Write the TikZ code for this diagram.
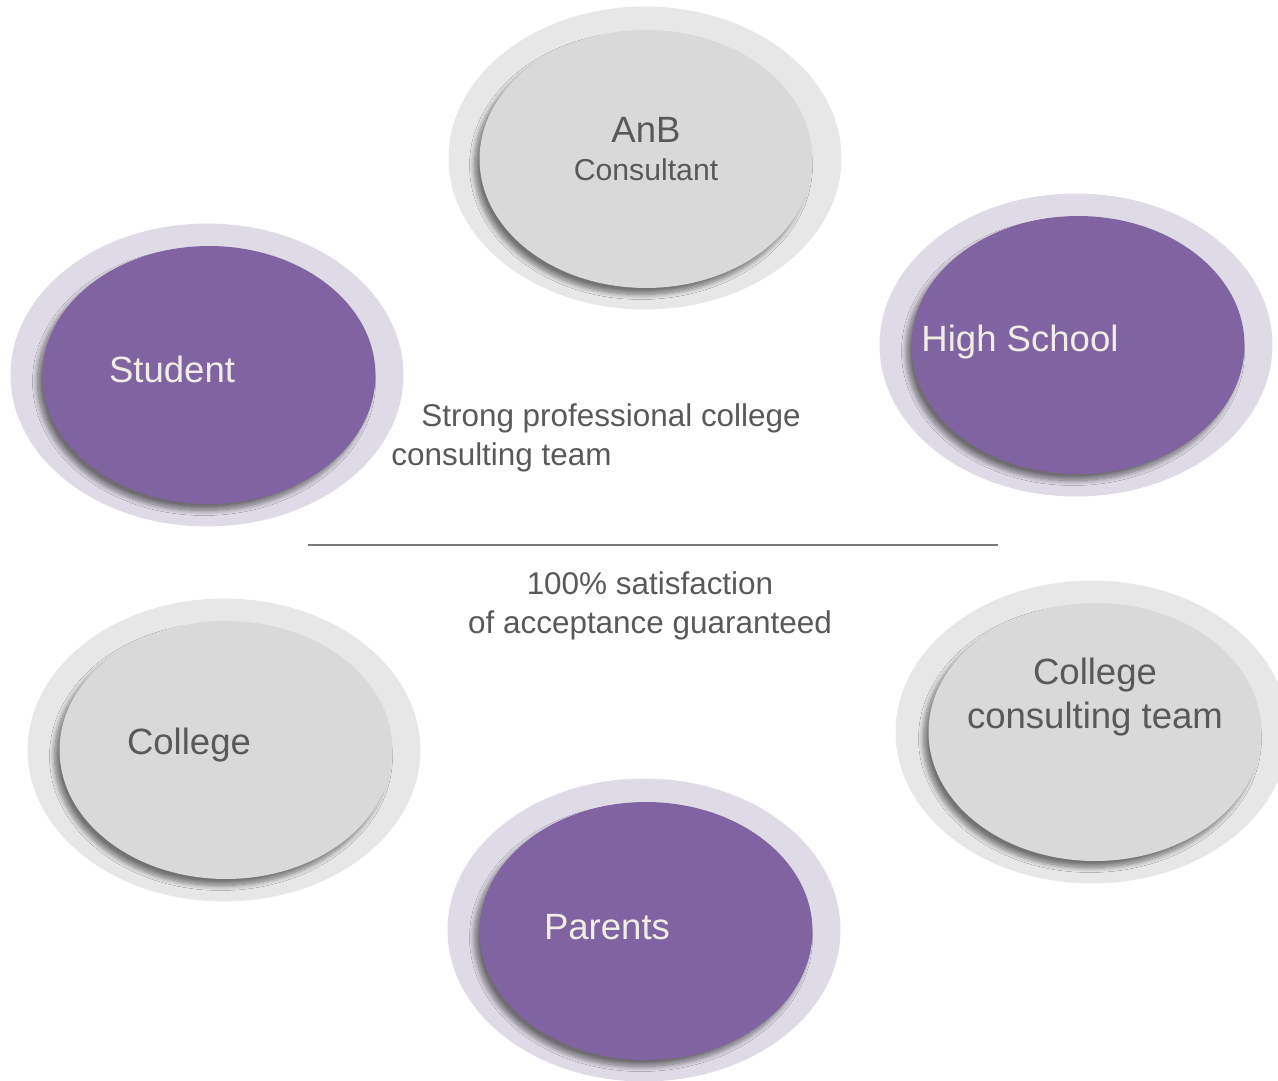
\documentclass[tikz,border=0pt]{standalone}
\usepackage{fontspec}
\setmainfont{Liberation Sans}
\usetikzlibrary{shapes.geometric,shadows.blur}
\definecolor{anbpurple}{RGB}{128,100,162}
\definecolor{anbring}{RGB}{222,218,230}
\definecolor{anbgray}{RGB}{217,217,217}
\definecolor{anbgrayring}{RGB}{231,231,231}
\definecolor{anbtext}{RGB}{89,89,89}
\definecolor{anbcream}{RGB}{240,238,228}

\tikzset{
  ring/.style={ellipse, minimum width=7.86cm, minimum height=6.06cm, inner sep=0pt},
  disc/.style={ellipse, minimum width=6.66cm, minimum height=5.16cm, inner sep=0pt,
    blur shadow={shadow xshift=-0.1cm, shadow yshift=-0.13cm, shadow blur radius=0.1cm, shadow blur steps=10, shadow opacity=50}},
  big/.style={font=\fontsize{20.8}{25}\selectfont},
  small/.style={font=\fontsize{17.2}{21}\selectfont, text=anbtext},
  mid/.style={font=\fontsize{17.9}{22}\selectfont, text=anbtext},
}

\begin{document}
\begin{tikzpicture}[x=0.02cm, y=-0.02cm]
	\useasboundingbox (0,0) rectangle (1278,1081);
	
	\node[ring, fill=anbgrayring] (anbring) at (645,158) {};
	\node[disc, fill=anbgray] (anb) at (646,159) {};
	\node[ring, fill=anbring] (studentring) at (207,375) {};
	\node[disc, fill=anbpurple] (student) at (209,375) {};
	\node[ring, fill=anbring] (hsring) at (1076,345) {};
	\node[disc, fill=anbpurple] (hs) at (1078,345) {};
	\node[ring, fill=anbgrayring] (collegering) at (224,750) {};
	\node[disc, fill=anbgray] (college) at (226,750) {};
	\node[ring, fill=anbring] (parentsring) at (644,930) {};
	\node[disc, fill=anbpurple] (parents) at (646,931) {};
	\node[ring, fill=anbgrayring] (teamring) at (1092,732) {};
	\node[disc, fill=anbgray] (team) at (1095,732) {};
	
	\node[big, text=anbtext] (anbtitle) at (646,130) {AnB};
	\node[small] (anbsub) at (646,170) {Consultant};
	\node[big, text=anbcream] (studenttext) at (172,369) {Student};
	\node[big, text=anbcream] (hstext) at (1020,342) {High School};
	\node[big, text=anbtext] (collegetext) at (189,745) {College};
	\node[big, text=anbcream] (parentstext) at (607,927) {Parents};
	\node[big, text=anbtext, align=center] (teamtext) at (1095,697) {College\\consulting team};
	
	\node[mid, anchor=west, inner sep=0pt] (strong) at (421,418) {Strong professional college};
	\node[mid, anchor=west, inner sep=0pt] (strongtwo) at (391,457) {consulting team};
	
	\coordinate (lineleft) at (308,545);
	\coordinate (lineright) at (998,545);
	\draw[line width=1.1pt, draw=anbtext!80] (lineleft) -- (lineright);
	
	\node[mid, align=center] (guarantee) at (650,606) {100\% satisfaction\\of acceptance guaranteed};
\end{tikzpicture}
\end{document}
